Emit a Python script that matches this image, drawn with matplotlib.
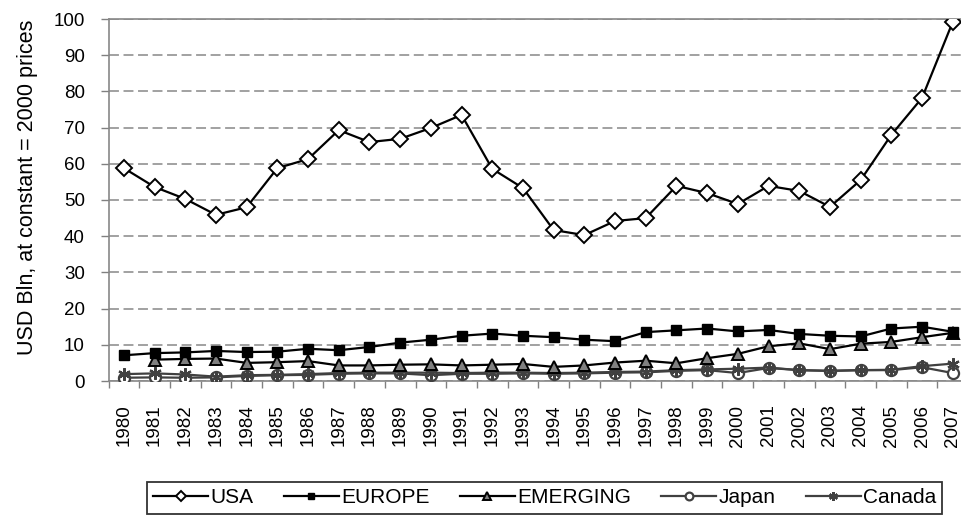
import numpy as np
import matplotlib
matplotlib.use("Agg")
import matplotlib.pyplot as plt
from matplotlib.ticker import FixedLocator

plt.rcParams['font.family'] = ['Liberation Sans', 'DejaVu Sans']

# Data (USD Bln, constant 2000 prices)
years = [str(y) for y in range(1980, 2008)]
usa = [58.8, 53.6, 50.3, 45.9, 48.0, 58.8, 61.3, 69.3, 66.0, 66.9, 69.9, 73.5, 58.6, 53.3,
       41.7, 40.3, 44.2, 45.0, 53.9, 51.9, 48.9, 53.9, 52.5, 48.1, 55.5, 68.0, 78.2, 99.2]
europe = [7.1, 7.7, 7.9, 8.3, 8.0, 8.1, 8.9, 8.5, 9.4, 10.6, 11.4, 12.5, 13.1, 12.5,
          12.1, 11.4, 11.0, 13.5, 14.0, 14.5, 13.7, 14.1, 13.0, 12.5, 12.3, 14.5, 15.0, 13.6]
emerging = [np.nan, 5.9, 6.1, 6.2, 5.0, 5.2, 5.5, 4.3, 4.3, 4.5, 4.6, 4.3, 4.5, 4.7,
            3.9, 4.3, 5.1, 5.6, 4.9, 6.3, 7.5, 9.6, 10.4, 8.8, 10.3, 10.8, 12.1, 13.3]
japan = [0.9, 1.0, 0.9, 1.0, 1.4, 1.6, 1.7, 2.0, 2.1, 2.1, 1.6, 2.0, 2.0, 2.1,
         2.0, 2.1, 2.3, 2.4, 2.8, 3.0, 2.2, 3.6, 3.0, 2.8, 3.0, 3.0, 3.8, 2.2]
canada = [1.9, 2.1, 1.8, 1.2, 1.6, 1.7, 1.9, 2.2, 2.3, 2.3, 2.3, 2.2, 2.3, 2.3,
          2.2, 2.3, 2.5, 2.6, 3.0, 3.2, 3.4, 3.7, 3.0, 2.8, 3.0, 3.1, 4.1, 4.8]

x = np.arange(len(years))

fig = plt.figure(figsize=(9.61, 5.17), dpi=100)
ax = fig.add_axes([108.5 / 961, 1 - 381 / 517, 859.6 / 961, 362 / 517])

gray = '#404040'
ax.plot(x, usa, color='black', lw=1.6, marker='D', ms=8, mfc='white', mec='black', mew=1.4,
        label='USA', zorder=6)
ax.plot(x, europe, color='black', lw=1.6, marker='s', ms=7, mfc='black', mec='black',
        label='EUROPE', zorder=5)
ax.plot(x, emerging, color='black', lw=1.6, marker='^', ms=8.5, mfc='#808080', mec='black', mew=1.4,
        label='EMERGING', zorder=4)
ax.plot(x, japan, color=gray, lw=1.6, marker='o', ms=8, mfc='white', mec=gray, mew=1.6,
        label='Japan', zorder=3)
ax.plot(x, canada, color=gray, lw=1.6, marker=(6, 2, 0), ms=9, mec=gray, mew=1.6,
        label='Canada', zorder=3)

ax.set_xlim(-0.5, len(years) - 0.5)
ax.set_ylim(0, 100)
ax.set_yticks(range(0, 101, 10))
ax.tick_params(axis='y', direction='out', length=6, width=1, color='#808080',
               labelsize=13.5, pad=11)
ax.set_xticks(x)
ax.set_xticklabels(years, rotation=90)
ax.xaxis.set_minor_locator(FixedLocator(np.arange(-0.5, len(years), 1)))
ax.tick_params(axis='x', which='major', length=0, labelsize=13.5, pad=17)
ax.tick_params(axis='x', which='minor', direction='out', length=5, width=1, color='#808080')

ax.grid(axis='y', color='#888888', linestyle=(0, (6.5, 3)), linewidth=1.1)
for side in ['left', 'bottom', 'top']:
    ax.spines[side].set_color('#888888')
    ax.spines[side].set_linewidth(1.2)
ax.spines['right'].set_visible(False)

fig.text(28 / 961, 1 - 187 / 517, 'USD Bln, at constant = 2000 prices', rotation=90,
         ha='center', va='center', fontsize=15.5)

leg = fig.legend(loc='upper left', bbox_to_anchor=(147 / 961, 1 - 482 / 517), ncol=5,
                 fontsize=15, frameon=True, fancybox=False, edgecolor='black',
                 handlelength=2.65, handletextpad=0.1, columnspacing=1.45,
                 borderpad=0.3, borderaxespad=0, markerscale=0.7)
leg.get_frame().set_linewidth(1.3)

fig.savefig('out.png', dpi=100)
